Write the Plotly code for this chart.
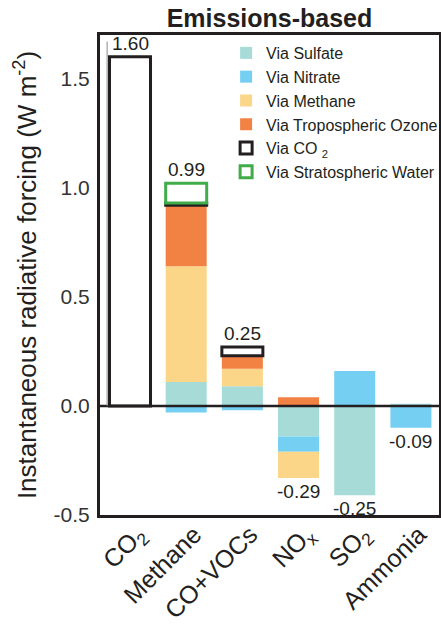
import plotly.graph_objects as go

# Emitted species (category keys) and their axis labels
species = ["CO2", "Methane", "CO+VOCs", "NOx", "SO2", "Ammonia"]
species_labels = ["CO<sub>2</sub>", "Methane", "CO+VOCs", "NO<sub>x</sub>", "SO<sub>2</sub>", "Ammonia"]

# Forcing contributions by pathway (W m-2); None = no contribution
via_sulfate = [None, 0.11, 0.09, -0.14, -0.41, 0.01]
via_nitrate = [None, -0.03, -0.02, -0.07, 0.16, -0.10]
via_methane = [None, 0.53, 0.08, -0.12, None, None]
via_ozone = [None, 0.28, 0.06, 0.04, None, None]
via_co2 = [1.60, 0.01, 0.04, None, None, None]
via_strat_water = [None, 0.09, None, None, None, None]

y_ticks = [-0.5, 0.0, 0.5, 1.0, 1.5]
y_tick_labels = ["-0.5", "0.0", "0.5", "1.0", "1.5"]

INK = "#231f20"
FONT = "Liberation Sans, Arial, Helvetica, sans-serif"

pathways = [
    ("Via Sulfate", via_sulfate, "#a6dbd8", None, 0),
    ("Via Nitrate", via_nitrate, "#75cff2", None, 0),
    ("Via Methane", via_methane, "#fbd689", None, 0),
    ("Via Tropospheric Ozone", via_ozone, "#f28144", None, 0),
    ("Via CO <sub>2</sub>", via_co2, "white", INK, 3),
    ("Via Stratospheric Water", via_strat_water, "white", "#40ad4a", 3),
]

fig = go.Figure()
for name, vals, fill, edge, lw in pathways:
    fig.add_trace(go.Bar(
        x=species, y=vals, name=name, width=0.73,
        marker=dict(color=fill, line=dict(color=edge or fill, width=lw)),
        hoverinfo="skip",
    ))

# Net value labels above (positive) or below (negative) each stack
for i, sp in enumerate(species):
    comps = [p[1][i] for p in pathways if p[1][i] is not None]
    net = sum(comps)
    top = sum(v for v in comps if v > 0)
    bottom = sum(v for v in comps if v < 0)
    if net >= 0:
        fig.add_annotation(x=sp, y=top, text=f"{net:.2f}", showarrow=False,
                           yanchor="bottom", yshift=1,
                           font=dict(size=19, color=INK, family=FONT))
    else:
        fig.add_annotation(x=sp, y=bottom, text=f"{net:.2f}", showarrow=False,
                           yanchor="top", yshift=-1,
                           font=dict(size=19, color=INK, family=FONT))

# Zero line drawn above the bars
fig.add_shape(type="line", xref="paper", x0=0, x1=1, yref="y", y0=0, y1=0,
              line=dict(color=INK, width=2.5), layer="above")
# Faint inner axis rule along the left side
fig.add_shape(type="line", xref="paper", x0=0.021, x1=0.021, yref="y", y0=0, y1=1.67,
              line=dict(color="#8a8a8a", width=1), layer="above")

fig.update_layout(
    width=441, height=628,
    margin=dict(l=100, r=2, t=35, b=113, autoexpand=False),
    barmode="relative",
    plot_bgcolor="white", paper_bgcolor="white",
    font=dict(family=FONT, color=INK),
    title=dict(text="<b>Emissions-based</b>", x=(100 + 439) / 2 / 441, xanchor="center",
               y=1 - 18 / 628, yanchor="middle",
               font=dict(size=25, color=INK, family=FONT)),
    legend=dict(x=0.372, y=0.998, xanchor="left", yanchor="top",
                bgcolor="rgba(0,0,0,0)", traceorder="normal",
                font=dict(size=16, color=INK, family=FONT)),
    xaxis=dict(type="category", range=[-0.534, 5.5], automargin=False,
               tickvals=species, ticktext=species_labels, tickangle=-45,
               tickfont=dict(size=25, color=INK, family=FONT),
               ticklabelstandoff=-8, ticklabelshift=8,
               showline=True, mirror=True, linewidth=3, linecolor=INK,
               ticks="", showgrid=False, zeroline=False),
    yaxis=dict(range=[-0.5, 1.70], tickvals=y_ticks, ticktext=y_tick_labels,
               automargin=False,
               tickfont=dict(size=21, color="#333333", family=FONT),
               ticklabelstandoff=3,
               showline=True, mirror=True, linewidth=3, linecolor=INK,
               ticks="", showgrid=False, zeroline=False,
               title=dict(text="Instantaneous radiative forcing (W m<sup>-2</sup>)",
                          font=dict(size=26, color=INK, family=FONT), standoff=10)),
)

fig.write_html("out.html")
